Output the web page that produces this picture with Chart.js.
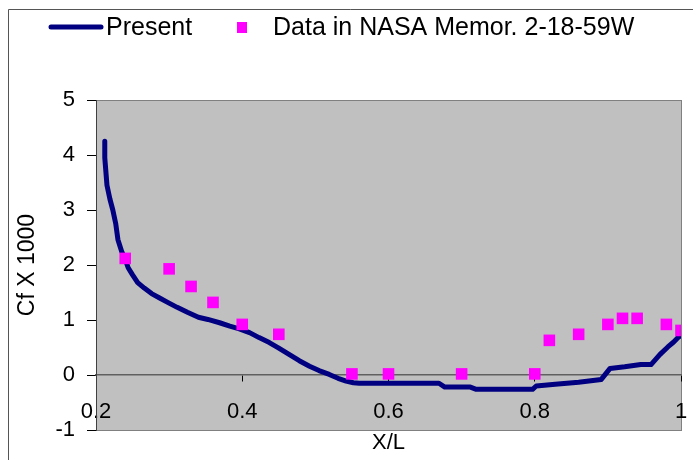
<!DOCTYPE html>
<html>
<head>
<meta charset="utf-8">
<script src="https://cdn.jsdelivr.net/npm/chart.js@4"></script>
<style>
  html, body { margin: 0; padding: 0; background: #fff; }
  #wrap { width: 693px; height: 460px; position: relative; }
</style>
</head>
<body>
<div id="wrap"><canvas id="cfChart"></canvas></div>
<script>
// computed skin friction (Present)
var presentX = [0.212, 0.212, 0.215, 0.219, 0.223, 0.227, 0.230, 0.235, 0.240, 0.244, 0.250, 0.257, 0.266, 0.276, 0.287, 0.298, 0.311, 0.325, 0.340, 0.353, 0.369, 0.383, 0.396, 0.410, 0.423, 0.437, 0.450, 0.464, 0.478, 0.492, 0.505, 0.519, 0.531, 0.542, 0.552, 0.560, 0.600, 0.640, 0.669, 0.677, 0.712, 0.720, 0.760, 0.797, 0.802, 0.828, 0.860, 0.891, 0.897, 0.903, 0.923, 0.945, 0.959, 0.965, 0.971, 0.982, 0.990, 0.996, 1.0];
var presentY = [4.25, 3.95, 3.45, 3.2, 3.0, 2.75, 2.46, 2.25, 2.10, 1.95, 1.82, 1.68, 1.58, 1.48, 1.40, 1.32, 1.23, 1.14, 1.05, 1.01, 0.95, 0.89, 0.84, 0.77, 0.68, 0.59, 0.49, 0.375, 0.26, 0.16, 0.08, 0.01, -0.06, -0.11, -0.14, -0.15, -0.15, -0.15, -0.15, -0.22, -0.22, -0.26, -0.26, -0.26, -0.2, -0.17, -0.13, -0.08, 0.02, 0.12, 0.15, 0.19, 0.19, 0.28, 0.37, 0.51, 0.6, 0.68, 0.72];

// measured values, NASA memo
var nasaX = [0.24, 0.30, 0.33, 0.36, 0.40, 0.45, 0.55, 0.60, 0.70, 0.80, 0.82, 0.86, 0.90, 0.92, 0.94, 0.98, 1.00];
var nasaY = [2.12, 1.93, 1.61, 1.32, 0.92, 0.74, 0.02, 0.02, 0.02, 0.02, 0.63, 0.74, 0.92, 1.03, 1.03, 0.92, 0.81];

var xTicks = [0.2, 0.4, 0.6, 0.8, 1];
var yTicks = [-1, 0, 1, 2, 3, 4, 5];

var FONT = "'Liberation Sans', Arial, sans-serif";

function toPoints(xs, ys) {
    var pts = [];
    for (let i = 0; i < xs.length; i++) {
        pts.push({ x: xs[i], y: ys[i] });
    }
    return pts;
}

// gray plot area + outer frame
var backdrop = {
    id: 'backdrop',
    beforeDraw: function(chart) {
        var ctx = chart.ctx;
        var a = chart.chartArea;
        ctx.save();
        ctx.fillStyle = '#fff';
        ctx.fillRect(0, 0, chart.width, chart.height);
        ctx.strokeStyle = '#555';
        ctx.lineWidth = 1;
        ctx.beginPath();
        ctx.moveTo(8.5, chart.height);
        ctx.lineTo(8.5, 9.5);
        ctx.lineTo(chart.width, 9.5);
        ctx.stroke();
        ctx.fillStyle = '#C0C0C0';
        ctx.fillRect(a.left, a.top, a.right - a.left, a.bottom - a.top);
        ctx.strokeStyle = '#808080';
        ctx.strokeRect(a.left + 0.5, a.top + 0.5, a.right - a.left, a.bottom - a.top);
        ctx.restore();
    }
};

// legend row at the top
var topLegend = {
    id: 'topLegend',
    afterDraw: function(chart) {
        var ctx = chart.ctx;
        var ds = chart.data.datasets;
        ctx.save();
        ctx.font = '25px ' + FONT;
        ctx.textBaseline = 'middle';
        ctx.fillStyle = '#000';

        ctx.strokeStyle = ds[0].borderColor;
        ctx.lineWidth = 5;
        ctx.lineCap = 'round';
        ctx.beginPath();
        ctx.moveTo(51, 27);
        ctx.lineTo(101, 27);
        ctx.stroke();
        ctx.fillText(ds[0].label, 106, 28);

        ctx.fillStyle = ds[1].backgroundColor;
        ctx.fillRect(237, 22, 10, 11);
        ctx.fillStyle = '#000';
        ctx.fillText(ds[1].label, 273, 28);
        ctx.restore();
    }
};

var chartdata = {
    datasets: [
        {
            type: 'line',
            label: 'Present',
            data: toPoints(presentX, presentY),
            borderColor: '#000080',
            backgroundColor: '#000080',
            borderWidth: 5,
            borderCapStyle: 'round',
            borderJoinStyle: 'round',
            pointRadius: 0,
            tension: 0,
            order: 2
        },
        {
            type: 'scatter',
            label: 'Data in NASA Memor. 2-18-59W',
            data: toPoints(nasaX, nasaY),
            backgroundColor: '#FF00FF',
            borderWidth: 0,
            pointStyle: 'rect',
            pointRadius: 8.2,
            order: 1
        }
    ]
};

new Chart(document.getElementById('cfChart'), {
    type: 'scatter',
    data: chartdata,
    plugins: [backdrop, topLegend],
    options: {
        responsive: true,
        maintainAspectRatio: false,
        animation: false,
        layout: { padding: { top: 100, right: 12, bottom: 30, left: 0 } },
        plugins: {
            legend: { display: false },
            tooltip: { enabled: false }
        },
        scales: {
            x: {
                type: 'linear',
                position: { y: 0 },
                min: 0.2,
                max: 1,
                afterBuildTicks: function(axis) {
                    axis.ticks = xTicks.map(function(v) { return { value: v }; });
                },
                afterFit: function(axis) {
                    // the "1" label fits in the right margin
                    axis.paddingRight = 12;
                },
                grid: {
                    drawOnChartArea: false,
                    drawTicks: true,
                    tickLength: 6,
                    tickColor: '#000'
                },
                border: { display: true, color: '#606060', width: 1.5 },
                ticks: {
                    color: '#000',
                    font: { family: FONT, size: 22 },
                    padding: 18,
                    maxRotation: 0,
                    autoSkip: false,
                    callback: function(value) { return String(Math.round(value * 10) / 10); }
                },
                title: {
                    display: true,
                    text: 'X/L',
                    color: '#000',
                    font: { family: FONT, size: 22 },
                    padding: { top: -14, bottom: 0 }
                }
            },
            y: {
                type: 'linear',
                position: 'left',
                min: -1,
                max: 5,
                afterBuildTicks: function(axis) {
                    axis.ticks = yTicks.map(function(v) { return { value: v }; });
                },
                afterFit: function(axis) { axis.width = 96; },
                grid: {
                    drawOnChartArea: false,
                    drawTicks: true,
                    tickLength: 9,
                    tickColor: '#000'
                },
                border: { display: true, color: '#404040', width: 1 },
                ticks: {
                    color: '#000',
                    font: { family: FONT, size: 22 },
                    padding: 12
                },
                title: {
                    display: true,
                    text: 'Cf X 1000',
                    color: '#000',
                    font: { family: FONT, size: 23 },
                    padding: { top: 14, bottom: 0 }
                }
            }
        }
    }
});
</script>
</body>
</html>
